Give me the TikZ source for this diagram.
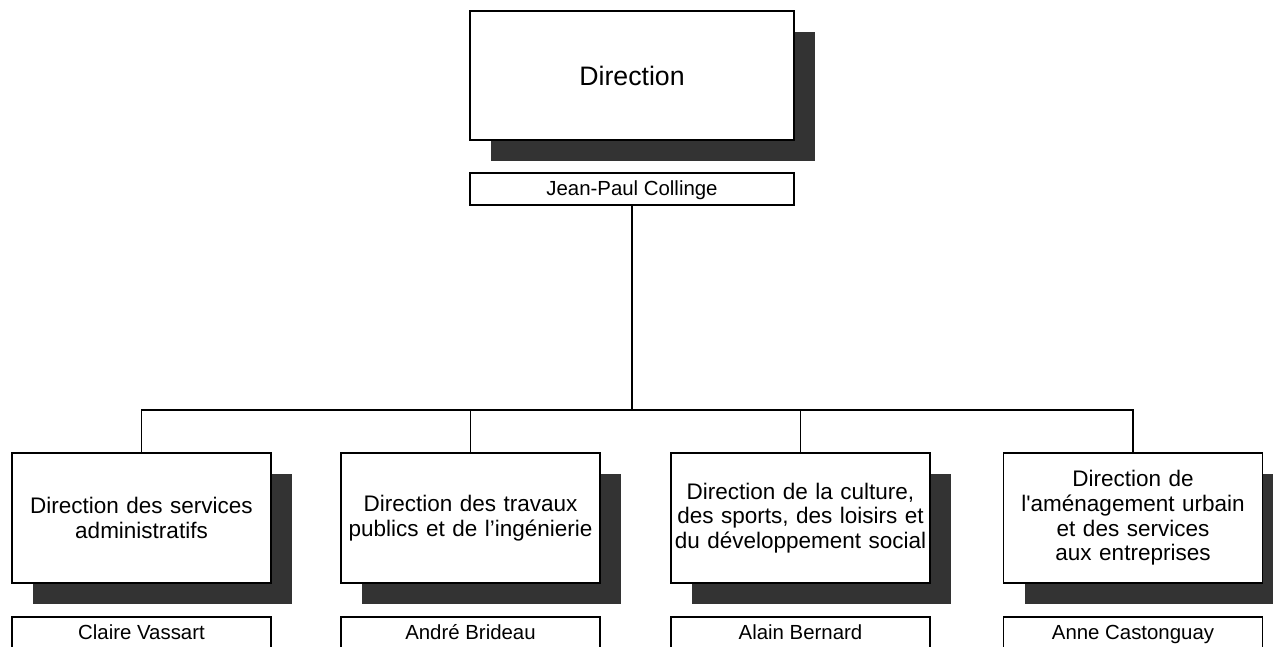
\documentclass[tikz,border=0pt]{standalone}
\usepackage{fontspec}
\setmainfont{Liberation Sans}[Ligatures=TeXOff]
\usetikzlibrary{shadows}
\definecolor{shadowgray}{HTML}{333333}
\tikzset{
  orgbox/.style={draw=black, line width=1.1pt, fill=white, rectangle, inner sep=0pt,
    drop shadow={shadow xshift=21pt, shadow yshift=-21pt, fill=shadowgray, opacity=1}},
  topbox/.style={orgbox, minimum width=324pt, minimum height=129pt,
    font=\fontsize{26.7}{29}\selectfont},
  unitbox/.style={orgbox, minimum width=259pt, minimum height=130pt,
    text width=255pt, align=center, font=\fontsize{22.5}{24.6}\selectfont},
  namebox/.style={draw=black, line width=1.1pt, fill=white, rectangle, inner sep=0pt,
    minimum height=32pt, text height=16pt, text depth=4pt,
    font=\fontsize{20.4}{22}\selectfont},
  link/.style={draw=black, line width=1.1pt}
}
\begin{document}
\begin{tikzpicture}[x=1pt, y=-1pt]
\useasboundingbox (0,0) rectangle (1273,647);
\node[topbox] (dir) at (632,75.5) {Direction};
\node[namebox, minimum width=324pt] (jp) at (632,189) {Jean-Paul Collinge};

\node[unitbox] (u1) at (141.5,518) {Direction des services\\administratifs};
\node[unitbox] (u2) at (470.5,518) {Direction des travaux\\publics et de l’ingénierie};
\node[unitbox] (u3) at (800.5,518) {Direction de la culture,\\des sports, des loisirs et\\du développement social};
\node[unitbox] (u4) at (1133,518) {Direction de\\l'aménagement urbain\\et des services\\aux entreprises};

\node[namebox, minimum width=259pt] (n1) at (141.5,633) {Claire Vassart};
\node[namebox, minimum width=259pt] (n2) at (470.5,633) {André Brideau};
\node[namebox, minimum width=259pt] (n3) at (800.5,633) {Alain Bernard};
\node[namebox, minimum width=259pt] (n4) at (1133,633) {Anne Castonguay};

\coordinate (hub) at (632,410);
\draw[link] (jp.south) -- (hub);
\foreach \u in {u1,u2,u3,u4}{
  \draw[link] (hub) -| (\u.north);
}
\end{tikzpicture}
\end{document}
